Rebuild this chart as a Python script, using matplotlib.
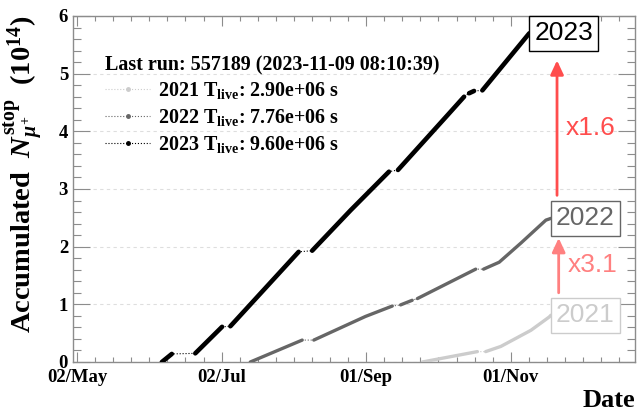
import numpy as np
import matplotlib
matplotlib.use("Agg")
import matplotlib.pyplot as plt
from matplotlib.lines import Line2D
from matplotlib.ticker import FixedLocator, MultipleLocator

plt.rcParams["font.family"] = ["Liberation Serif", "DejaVu Serif"]
plt.rcParams["font.weight"] = "bold"
plt.rcParams["axes.labelweight"] = "bold"
plt.rcParams["mathtext.fontset"] = "custom"
plt.rcParams["mathtext.rm"] = "Liberation Serif:bold"
plt.rcParams["mathtext.bf"] = "Liberation Serif:bold"
plt.rcParams["mathtext.it"] = "Liberation Serif:italic:bold"

nan = np.nan

# Accumulated stopped muons (units of 1e14) vs day of year; NaN = beam-off gap
day_2021 = [267.7, 290.9, nan, 294.4, 300.8, 313.5, 321.2, 321.9]
acc_2021 = [0.00, 0.18, nan, 0.18, 0.27, 0.55, 0.78, 0.81]

day_2022 = [195.1, 217.0, nan, 221.9, 243.7, 255.0, nan, 258.5, 263.4, nan,
            265.6, 290.2, nan, 293.5, 300.1, 309.2, 319.8, 321.9]
acc_2022 = [0.00, 0.38, nan, 0.38, 0.79, 0.97, nan, 0.99, 1.07, nan,
            1.10, 1.61, nan, 1.61, 1.73, 2.06, 2.46, 2.49]

day_2023 = [157.8, 162.0, nan, 171.9, 183.2, nan, 186.7, 215.5, nan, 221.2,
            237.4, 253.6, nan, 257.4, 278.3, 285.3, nan, 287.4, 289.5, nan,
            293.0, 312.8]
acc_2023 = [0.00, 0.14, nan, 0.15, 0.61, nan, 0.62, 1.91, nan, 1.93,
            2.63, 3.30, nan, 3.33, 4.28, 4.60, nan, 4.66, 4.70, nan,
            4.71, 5.70]

years = ["2021", "2022", "2023"]
live_times = ["2.90e+06", "7.76e+06", "9.60e+06"]
colors = ["#cccccc", "#666666", "#000000"]
widths = [2.4, 2.4, 3.3]
last_run = "Last run: 557189 (2023-11-09 08:10:39)"

tick_days = [122, 183, 244, 305]
tick_labels = ["02/May", "02/Jul", "01/Sep", "01/Nov"]

ratios = ["x3.1", "x1.6"]
ratio_colors = ["#ff8080", "#ff4d4d"]

fig = plt.figure(figsize=(6.39, 4.13), dpi=100)
ax = fig.add_axes([0.1142, 0.1235, 0.8803, 0.8378])

series = [(day_2021, acc_2021), (day_2022, acc_2022), (day_2023, acc_2023)]
handles = []
for (d, a), yr, lt, c, w in zip(series, years, live_times, colors, widths):
    d = np.asarray(d, float)
    a = np.asarray(a, float)
    ok = ~np.isnan(d)
    # thin dotted connection across beam-off periods
    ax.plot(d[ok], a[ok], color=c, lw=0.8, ls=":", zorder=2)
    # thick trace while data were taken
    ax.plot(d, a, color=c, lw=w, solid_capstyle="round", zorder=3)
    handles.append(Line2D([0], [0], color=c, lw=0.8, ls=":", marker="o",
                          ms=2.5, label=rf"{yr} T$_{{\rm live}}$: {lt} s"))
    ax.annotate(yr, xy=(d[ok][-1], a[ok][-1]), xytext=(5, 0),
                textcoords="offset pixels", ha="left", va="center",
                family="Liberation Sans", fontweight="normal", fontsize=19,
                color=c, zorder=6,
                bbox=dict(boxstyle="square,pad=0.2", fc="white", ec=c, lw=1))

# growth arrows between consecutive years
end21, end22, end23 = acc_2021[-1], acc_2022[-1], acc_2023[-1]
x22 = day_2022[-1]
arrows = [((x22 + 3.3, end21 + 0.39), (x22 + 3.3, end22 - 0.34)),
          ((x22 + 2.6, end22 + 0.40), (x22 + 2.6, end23 - 0.47))]
for (tail, tip), txt, rc in zip(arrows, ratios, ratio_colors):
    ax.annotate("", xy=tip, xytext=tail,
                arrowprops=dict(arrowstyle="-|>,head_length=0.6,head_width=0.28",
                                color=rc, lw=2, mutation_scale=14,
                                shrinkA=0, shrinkB=0), zorder=5)
    ax.text(tail[0] + 3.8, (tail[1] + tip[1]) / 2, txt, ha="left", va="center",
            family="Liberation Sans", fontweight="normal", fontsize=19,
            color=rc, zorder=6)

ax.set_xlim(120.3, 357.6)
ax.set_ylim(0, 6)

ax.xaxis.set_major_locator(FixedLocator(tick_days))
ax.set_xticklabels(tick_labels)
ax.xaxis.set_minor_locator(MultipleLocator(61 / 8))
ax.yaxis.set_major_locator(MultipleLocator(1))
ax.yaxis.set_minor_locator(MultipleLocator(0.2))

frame = "#8c8c8c"
for s in ax.spines.values():
    s.set_color(frame)
    s.set_linewidth(1.0)
ax.tick_params(axis="x", which="major", direction="in", length=7.5, width=0.8,
               color=frame, top=True, labelsize=13.5, pad=5)
ax.tick_params(axis="x", which="minor", direction="in", length=3.7, width=0.8,
               color=frame, top=True)
ax.tick_params(axis="y", which="major", direction="in", length=12.2, width=0.8,
               color=frame, right=True, labelsize=13.5, pad=3.5)
ax.tick_params(axis="y", which="minor", direction="in", length=6.1, width=0.8,
               color=frame, right=True)
ax.yaxis.grid(True, which="major", color="#dedede", ls=(0, (3, 3)), lw=0.8)
ax.set_axisbelow(True)

ax.set_ylabel(r"Accumulated  $N^{\rm stop}_{\mu^{+}}$  (10$^{\rm 14}$)",
              fontsize=20.5, fontweight="bold", loc="top")
ax.yaxis.label.set_va("center")
ax.yaxis.set_label_coords(-0.087, 1.0)
ax.set_xlabel("Date", fontsize=19, fontweight="bold", loc="right")
ax.xaxis.label.set_va("center")
ax.xaxis.set_label_coords(1.0, -0.11)

# legend header and entries
ax.text(0.057, 0.858, last_run, transform=ax.transAxes, ha="left", va="center",
        fontsize=14.4, fontweight="bold")
leg = ax.legend(handles=handles, loc="upper left", bbox_to_anchor=(0.057, 0.8136),
                frameon=False, prop=dict(weight="bold", size=14.4),
                handlelength=2.25, handletextpad=0.4, labelspacing=0.29,
                borderpad=0, borderaxespad=0, numpoints=1)

fig.savefig("out.png", dpi=100)
